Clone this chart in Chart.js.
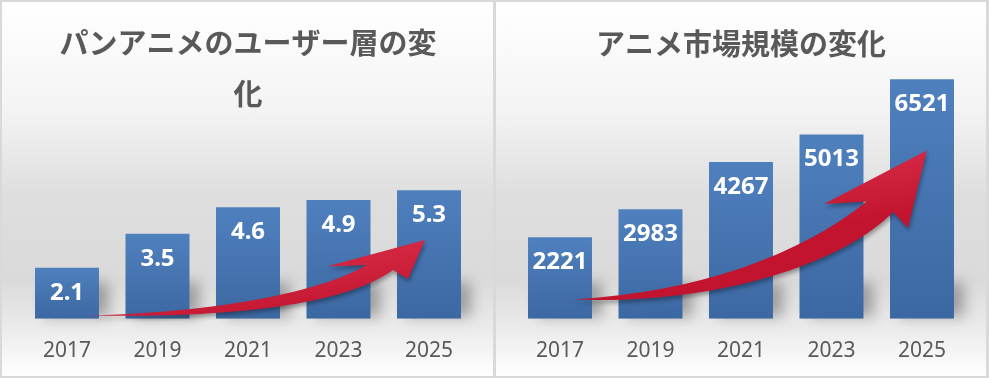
<!DOCTYPE html>
<html>
<head>
<meta charset="utf-8">
<script src="https://cdn.jsdelivr.net/npm/chart.js@4.4.1/dist/chart.umd.min.js"></script>
<style>
  html, body { margin: 0; padding: 0; }
  body { width: 989px; height: 378px; background: #d9d9d9; position: relative; overflow: hidden; }
  .panel { position: absolute; top: 2px; height: 374px; overflow: visible;
    background: linear-gradient(to bottom, #ffffff 0%, #f4f4f4 28%, #dedede 52%, #dadada 74%, #ececec 88%, #ffffff 100%); }
  #p1 { left: 2px; width: 491px; }
  #p2 { left: 496px; width: 490px; }
  canvas { position: absolute; left: 0; top: 0; }
</style>
</head>
<body>
<div class="panel" id="p1"><canvas id="c1" width="491" height="382"></canvas></div>
<div class="panel" id="p2"><canvas id="c2" width="490" height="382"></canvas></div>
<script>
// ---- data ----
const categories = ['2017', '2019', '2021', '2023', '2025'];
const userValues = [2.1, 3.5, 4.6, 4.9, 5.3];
const marketValues = [2221, 2983, 4267, 5013, 6521];
const userTitle = ['パンアニメのユーザー層の変', '化'];
const marketTitle = 'アニメ市場規模の変化';
const userAxisMax = 6;
const marketAxisMax = 7000;

// decorative arrow guides, in [category index, value] units
const userArrow = {
  tail: [0.232, 0.13], u1: [1.691, 0.277], u2: [2.796, 1.103], notch: [3.311, 2.219],
  lb: [2.870, 2.149], tip: [3.956, 3.252], rb: [3.768, 1.641], il: [3.602, 2.013],
  l2: [3.072, 0.566], l1: [1.801, 0.029]
};
const marketArrow = {
  tail: [0.144, 520], u1: [1.547, 727], u2: [2.652, 1736], notch: [3.389, 3188],
  lb: [2.917, 3125], tip: [4.052, 4578], rb: [3.845, 2471], il: [3.680, 2907],
  l2: [3.149, 1545], l1: [1.768, 373]
};

const TEXT = '#595959';

function barGradient(c) {
  const chart = c.chart;
  if (!chart.chartArea || c.raw == null) return '#4676b2';
  const ys = chart.scales.y;
  const top = ys.getPixelForValue(c.raw);
  const bottom = ys.getPixelForValue(0);
  const g = chart.ctx.createLinearGradient(0, top, 0, bottom);
  g.addColorStop(0, '#4f80be');
  g.addColorStop(1, '#3c68a2');
  return g;
}

const shadowPlugin = {
  id: 'barShadow',
  beforeDatasetsDraw(chart) {
    const ctx = chart.ctx;
    const meta = chart.getDatasetMeta(0);
    meta.data.forEach(bar => {
      const w = bar.width;
      ctx.save();
      ctx.filter = 'blur(7px)';
      ctx.fillStyle = 'rgba(0,0,0,0.30)';
      ctx.fillRect(bar.x - w / 2 + 10, bar.base - 36, w, 34);
      ctx.restore();
    });
  }
};

const arrowPlugin = {
  id: 'arrow',
  afterDatasetsDraw(chart, args, opts) {
    const a = opts.path;
    if (!a) return;
    const xs = chart.scales.x, ys = chart.scales.y;
    const P = k => [xs.getPixelForValue(a[k][0]), ys.getPixelForValue(a[k][1])];
    const ctx = chart.ctx;
    const t = P('tail'), u1 = P('u1'), u2 = P('u2'), n = P('notch'), lb = P('lb'),
          tip = P('tip'), rb = P('rb'), il = P('il'), l2 = P('l2'), l1 = P('l1');
    ctx.save();
    ctx.beginPath();
    ctx.moveTo(t[0], t[1]);
    ctx.bezierCurveTo(u1[0], u1[1], u2[0], u2[1], n[0], n[1]);
    ctx.lineTo(lb[0], lb[1]);
    ctx.lineTo(tip[0], tip[1]);
    ctx.lineTo(rb[0], rb[1]);
    ctx.lineTo(il[0], il[1]);
    ctx.bezierCurveTo(l2[0], l2[1], l1[0], l1[1], t[0], t[1]);
    ctx.closePath();
    const g = ctx.createLinearGradient(tip[0], tip[1] - 10, tip[0] + 10, tip[1] + 60);
    g.addColorStop(0, '#d62b46');
    g.addColorStop(1, '#c2142f');
    ctx.shadowColor = 'rgba(0,0,0,0.35)';
    ctx.shadowBlur = 4;
    ctx.shadowOffsetX = 1;
    ctx.shadowOffsetY = 3;
    ctx.fillStyle = g;
    ctx.fill();
    ctx.restore();
  }
};

const labelPlugin = {
  id: 'valueLabels',
  afterDatasetsDraw(chart) {
    const ctx = chart.ctx;
    const meta = chart.getDatasetMeta(0);
    const vals = chart.data.datasets[0].data;
    ctx.save();
    ctx.fillStyle = '#ffffff';
    ctx.font = 'bold 24px "Noto Sans", "Open Sans", sans-serif';
    ctx.textAlign = 'center';
    ctx.textBaseline = 'middle';
    meta.data.forEach((bar, i) => {
      ctx.fillText(String(vals[i]), bar.x, bar.y + 25);
    });
    ctx.restore();
  }
};

function makeChart(id, values, title, yMax, arrow, layoutPad, titlePad, titleLH) {
  return new Chart(document.getElementById(id), {
    type: 'bar',
    data: {
      labels: categories,
      datasets: [{
        data: values,
        backgroundColor: barGradient,
        borderWidth: 0,
        categoryPercentage: 1.0,
        barPercentage: 0.707
      }]
    },
    options: {
      responsive: false,
      devicePixelRatio: 1,
      animation: false,
      layout: { padding: layoutPad },
      plugins: {
        legend: { display: false },
        tooltip: { enabled: false },
        title: {
          display: true,
          text: title,
          color: TEXT,
          font: { family: '"Noto Sans CJK JP", sans-serif', size: 29, weight: 'bold', lineHeight: titleLH },
          padding: titlePad
        },
        arrow: { path: arrow }
      },
      scales: {
        x: {
          grid: { display: false, drawTicks: false },
          border: { display: false },
          ticks: { color: TEXT, padding: 19.7, font: { family: '"Noto Sans", sans-serif', size: 21, lineHeight: 1.2 } }
        },
        y: {
          display: false,
          min: 0,
          max: yMax
        }
      }
    },
    plugins: [shadowPlugin, arrowPlugin, labelPlugin]
  });
}

makeChart('c1', userValues, userTitle, userAxisMax, userArrow,
  { left: 19.75, right: 18.75, top: 0, bottom: 0.7 },
  { top: 15.5, bottom: 53.7 }, 1.76);

makeChart('c2', marketValues, marketTitle, marketAxisMax, marketArrow,
  { left: 18.75, right: 18.75, top: 0, bottom: 0.7 },
  { top: 24.6, bottom: 0.2 }, 1.2);
</script>
</body>
</html>
